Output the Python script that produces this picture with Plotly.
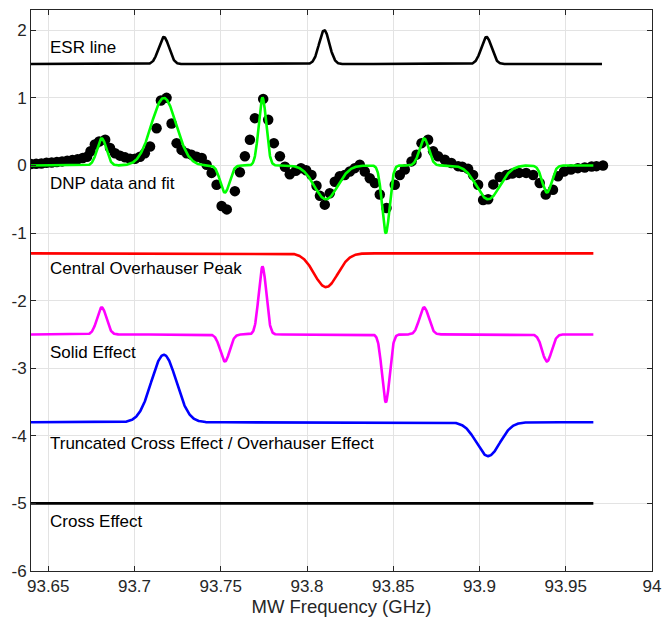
import numpy as np
import plotly.graph_objects as go

# ---------------- data ----------------
# DNP data points (frequency GHz, normalized enhancement)
dnp_freq = [93.640, 93.643, 93.646, 93.649, 93.652, 93.655, 93.658, 93.661, 93.664, 93.667,
            93.670, 93.6725, 93.6745, 93.677, 93.6795, 93.683, 93.6858, 93.6887, 93.6916, 93.6945,
            93.6974, 93.7003, 93.7032, 93.706, 93.709, 93.7128, 93.7153, 93.7186, 93.7215, 93.7244,
            93.7273, 93.7302, 93.733, 93.736, 93.739, 93.7418, 93.7447, 93.7476, 93.7505, 93.7535,
            93.7582, 93.7611, 93.764, 93.7669, 93.7698, 93.7746, 93.7775, 93.7808, 93.7843, 93.7872,
            93.790, 93.7935, 93.7965, 93.7995, 93.8026, 93.8055, 93.8075, 93.8103, 93.8132, 93.8161,
            93.819, 93.8219, 93.8248, 93.8277, 93.8306, 93.8335, 93.8364, 93.8393, 93.8422, 93.8461,
            93.8509, 93.8538, 93.8567, 93.8606, 93.8635, 93.8664, 93.8702, 93.8731, 93.876, 93.8799,
            93.8837, 93.8876, 93.890, 93.8934, 93.8963, 93.8992, 93.9021, 93.905, 93.908, 93.9117,
            93.9156, 93.919, 93.923, 93.927, 93.9311, 93.9349, 93.9384, 93.9426, 93.9455, 93.949,
            93.953, 93.957, 93.961, 93.965, 93.9678, 93.9716]
dnp_value = [0.02, 0.025, 0.03, 0.04, 0.045, 0.05, 0.06, 0.07, 0.08, 0.09,
             0.11, 0.13, 0.21, 0.31, 0.355, 0.38, 0.26, 0.18, 0.145, 0.12,
             0.10, 0.10, 0.13, 0.18, 0.28, 0.55, 0.96, 1.0, 0.62, 0.33,
             0.23, 0.18, 0.16, 0.13, 0.11, 0.01, -0.11, -0.285, -0.60, -0.65,
             -0.38, -0.10, 0.135, 0.38, 0.70, 0.985, 0.675, 0.33, 0.135, -0.02,
             -0.13, -0.08, -0.04, -0.07, -0.14, -0.30, -0.45, -0.58, -0.41, -0.24,
             -0.16, -0.14, -0.09, -0.04, 0.01, -0.09, -0.19, -0.26, -0.43, -0.63,
             -0.285, -0.14, -0.06, 0.06, 0.16, 0.33, 0.38, 0.21, 0.135, 0.085,
             0.036, -0.01, -0.02, -0.05, -0.14, -0.285, -0.51, -0.50, -0.28, -0.17,
             -0.14, -0.12, -0.11, -0.11, -0.14, -0.26, -0.43, -0.36, -0.16, -0.09,
             -0.06, -0.04, -0.03, -0.015, -0.01, 0.0]

# ESR line: baseline offset and Gaussian peaks (center, amplitude, sigma)
esr_offset = 1.5
esr_centers = [93.717, 93.810, 93.904]
esr_amps = [0.4, 0.5, 0.4]
esr_sigmas = [0.003, 0.003, 0.003]

# Central Overhauser peak (red)
oe_offset = -1.3
oe_centers = [93.811]
oe_amps = [-0.5]
oe_sigmas = [0.0068]

# Solid effect (magenta)
se_offset = -2.5
se_centers = [93.681, 93.7524, 93.7742, 93.8457, 93.8679, 93.9391]
se_amps = [0.4, -0.4, 1.0, -1.0, 0.4, -0.4]
se_sigmas = [0.0027, 0.0027, 0.0022, 0.0022, 0.0027, 0.0027]

# Truncated cross effect / Overhauser effect (blue)
tce_offset = -3.8
tce_centers = [93.717, 93.905]
tce_amps = [1.0, -0.5]
tce_sigmas = [0.0072, 0.0068]

# Cross effect (black)
ce_offset = -5.0

# frequency span of the curves
curve_start, curve_end = 93.640, 93.966
esr_end = 93.971

# labels
labels = ["ESR line", "DNP data and fit", "Central Overhauser Peak", "Solid Effect",
          "Truncated Cross Effect / Overhauser Effect", "Cross Effect"]
label_y = [1.75, -0.27, -1.53, -2.77, -4.11, -5.27]
label_x = 93.65

x_tickvals = [93.65, 93.7, 93.75, 93.8, 93.85, 93.9, 93.95, 94.0]
x_ticktext = ["93.65", "93.7", "93.75", "93.8", "93.85", "93.9", "93.95", "94"]
y_tickvals = [-6, -5, -4, -3, -2, -1, 0, 1, 2]
y_ticktext = ["-6", "-5", "-4", "-3", "-2", "-1", "0", "1", "2"]


def gauss_sum(f, centers, amps, sigmas):
    out = np.zeros_like(f)
    for c, a, s in zip(centers, amps, sigmas):
        out += a * np.exp(-0.5 * ((f - c) / s) ** 2)
    return out


f = np.linspace(curve_start, curve_end, 1500)
fe = np.linspace(curve_start, esr_end, 1500)

esr = esr_offset + gauss_sum(fe, esr_centers, esr_amps, esr_sigmas)
oe_c = gauss_sum(f, oe_centers, oe_amps, oe_sigmas)
se_c = gauss_sum(f, se_centers, se_amps, se_sigmas)
tce_c = gauss_sum(f, tce_centers, tce_amps, tce_sigmas)
fit = oe_c + se_c + tce_c

LW = 2.6
fig = go.Figure()
fig.add_trace(go.Scatter(x=fe, y=esr, mode="lines", line=dict(color="black", width=LW)))
fig.add_trace(go.Scatter(x=dnp_freq, y=dnp_value, mode="markers",
                         marker=dict(color="black", size=10.5)))
fig.add_trace(go.Scatter(x=f, y=fit, mode="lines", line=dict(color="#00ff00", width=LW)))
fig.add_trace(go.Scatter(x=f, y=oe_offset + oe_c, mode="lines", line=dict(color="#ff0000", width=LW)))
fig.add_trace(go.Scatter(x=f, y=se_offset + se_c, mode="lines", line=dict(color="#ff00ff", width=LW)))
fig.add_trace(go.Scatter(x=f, y=tce_offset + tce_c, mode="lines", line=dict(color="#0000ff", width=LW)))
fig.add_trace(go.Scatter(x=[curve_start, curve_end], y=[ce_offset, ce_offset], mode="lines",
                         line=dict(color="black", width=LW)))

FONT = "Liberation Sans, Arial, Helvetica, sans-serif"
for t, yy in zip(labels, label_y):
    fig.add_annotation(x=label_x, y=yy, text=t, showarrow=False, xanchor="left", yanchor="middle",
                       font=dict(family=FONT, size=17, color="black"))

axis_common = dict(showline=True, linecolor="#262626", linewidth=1, mirror="ticks",
                   ticks="inside", ticklen=5, tickcolor="#262626", showgrid=True,
                   gridcolor="#e3e3e3", gridwidth=1, zeroline=False, automargin=False,
                   tickfont=dict(family=FONT, size=17, color="#262626"))

fig.update_layout(
    width=662, height=624,
    margin=dict(l=31, r=10, t=10, b=53),
    paper_bgcolor="white", plot_bgcolor="white",
    showlegend=False,
    xaxis=dict(range=[93.64, 94.0], tickvals=x_tickvals, ticktext=x_ticktext,
               title=dict(text="MW Frequency (GHz)", font=dict(family=FONT, size=18.5, color="#262626"),
                          standoff=3),
               **axis_common),
    yaxis=dict(range=[-6, 2.3], tickvals=y_tickvals, ticktext=y_ticktext, **axis_common),
)

# remove the browser's default page margin so the 662x624 figure fills the window exactly
fig.write_html("out.html",
               config={"displayModeBar": False},
               post_script="document.body.style.margin='0';document.body.style.overflow='hidden';")
